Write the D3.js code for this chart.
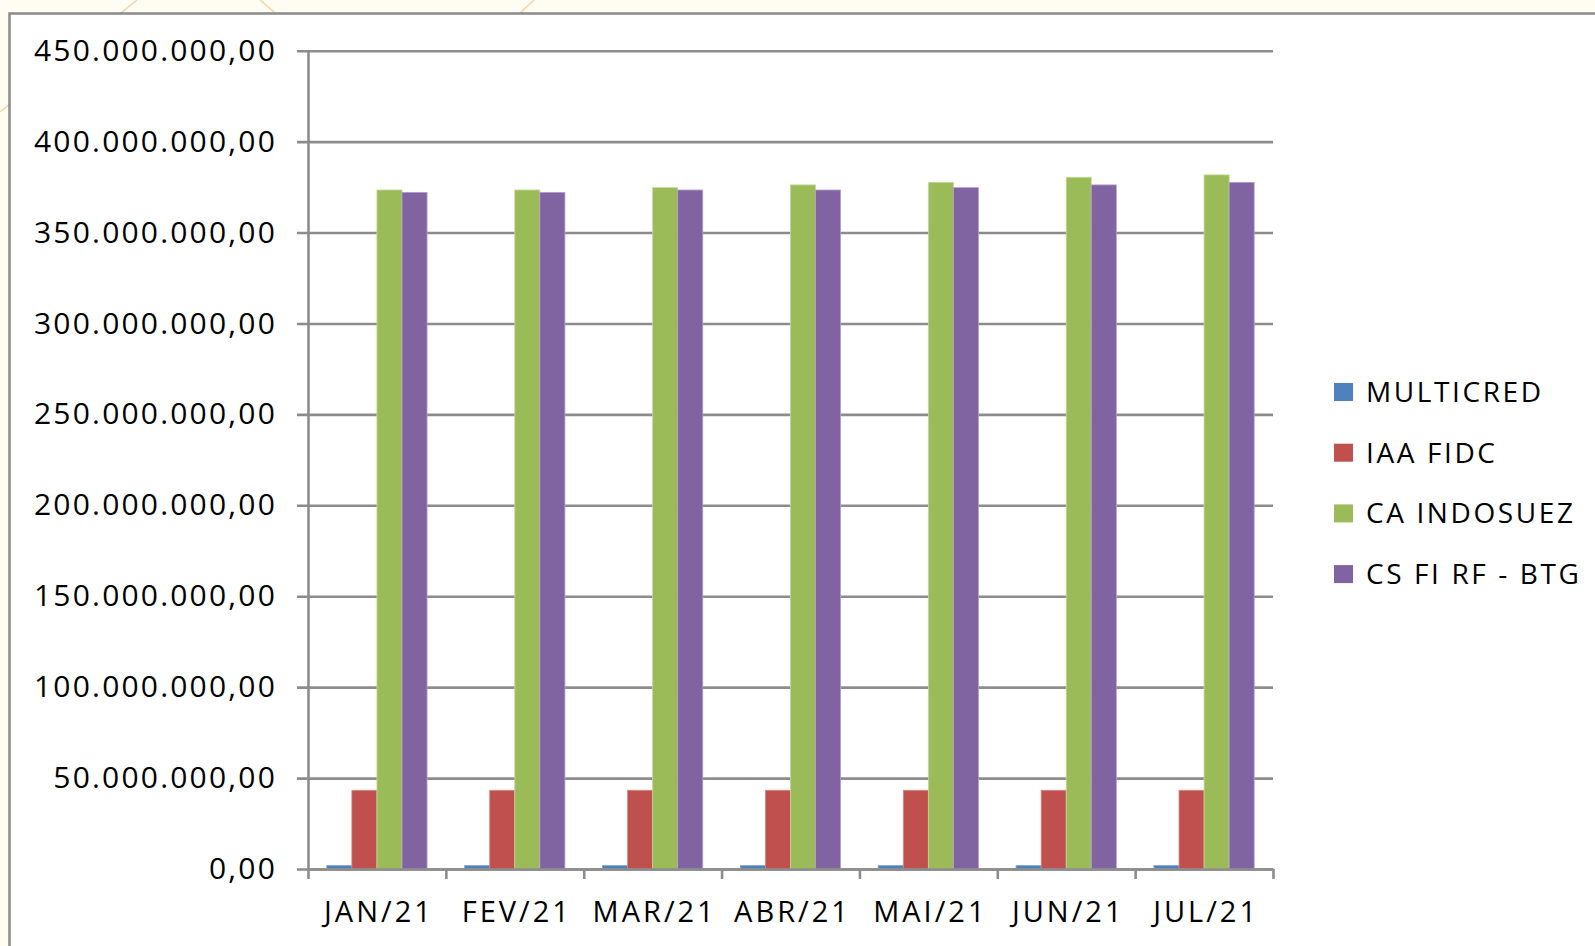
<!DOCTYPE html>
<html>
<head>
<meta charset="utf-8">
<script src="https://cdn.jsdelivr.net/npm/d3@7"></script>
<style>
  html, body { margin: 0; padding: 0; background: #fffcf4; overflow: hidden; }
  svg { display: block; }
  text { font-family: "Open Sans", "Liberation Sans", sans-serif; fill: #000; }
</style>
</head>
<body>
<svg id="chart" width="1595" height="946"></svg>
<script>
// ---- Data ----
const months = ["JAN/21", "FEV/21", "MAR/21", "ABR/21", "MAI/21", "JUN/21", "JUL/21"];
const seriesNames = ["MULTICRED", "IAA FIDC", "CA INDOSUEZ", "CS FI RF - BTG"];
const multicred = [1.9e6, 1.9e6, 1.9e6, 1.9e6, 1.9e6, 1.9e6, 1.9e6];
const iaaFidc = [43.3e6, 43.3e6, 43.3e6, 43.3e6, 43.3e6, 43.3e6, 43.3e6];
const caIndosuez = [373.4e6, 373.4e6, 374.7e6, 376.2e6, 377.6e6, 380.4e6, 381.7e6];
const csFiRfBtg = [372.1e6, 372.1e6, 373.4e6, 373.4e6, 374.7e6, 376.2e6, 377.6e6];
const yTicks = [0, 50e6, 100e6, 150e6, 200e6, 250e6, 300e6, 350e6, 400e6, 450e6];
const colors = ["#4f81bd", "#c0504d", "#9bbb59", "#8064a2"];
const strokes = ["#7fa3d3", "#d88a88", "#c3d99a", "#b3a0cc"];

const seriesValues = [multicred, iaaFidc, caIndosuez, csFiRfBtg];
const table = months.map((m, i) => ({ month: m, values: seriesNames.map((s, j) => ({ key: s, idx: j, value: seriesValues[j][i] })) }));

const svg = d3.select("#chart");

// ---- background decoration ----
const deco = svg.append("g").attr("stroke", "#f0d8a4").attr("stroke-width", 1.6).attr("fill", "none");
[[137, 0, 0, 112], [260, 0, 330, 60], [534, 0, 470, 60]].forEach(l => {
  deco.append("line").attr("x1", l[0]).attr("y1", l[1]).attr("x2", l[2]).attr("y2", l[3]);
});

// ---- chart box ----
svg.append("rect")
  .attr("x", 9.5).attr("y", 13.5).attr("width", 1600).attr("height", 960)
  .attr("fill", "#ffffff").attr("stroke", "#8a8a8a").attr("stroke-width", 2.5);

// ---- scales ----
const pLeft = 308, pRight = 1273, pTop = 50.7, pBottom = 869;
const x0 = d3.scaleBand().domain(months).range([pLeft, pRight]).paddingInner(0).paddingOuter(0);
const bw = x0.bandwidth();
const gap = bw * 0.75 / 5.5;
const x1 = d3.scaleBand().domain(seriesNames).range([gap, bw - gap]).padding(0);
const y = d3.scaleLinear().domain([0, 450e6]).range([pBottom, pTop]);

const locale = d3.formatLocale({ decimal: ",", thousands: ".", grouping: [3], currency: ["R$", ""] });
const fmt = locale.format(",.2f");

// ---- gridlines ----
svg.append("g")
  .attr("transform", `translate(${pRight},0)`)
  .call(d3.axisLeft(y).tickValues(yTicks).tickSize(pRight - pLeft + 11).tickFormat(""))
  .call(g => g.select(".domain").remove())
  .call(g => g.selectAll("line").attr("stroke", "#8c8c8c").attr("stroke-width", 2.6));

// ---- bars ----
const groups = svg.append("g").selectAll("g").data(table).join("g")
  .attr("transform", d => `translate(${x0(d.month)},0)`);
groups.selectAll("rect").data(d => d.values).join("rect")
  .attr("x", d => x1(d.key))
  .attr("y", d => y(d.value))
  .attr("width", x1.bandwidth())
  .attr("height", d => y(0) - y(d.value))
  .attr("fill", d => colors[d.idx])
  .attr("stroke", d => strokes[d.idx])
  .attr("stroke-width", 0.8);

// ---- y axis ----
svg.append("g")
  .attr("transform", `translate(${pLeft},0)`)
  .call(d3.axisLeft(y).tickValues(yTicks).tickSize(0).tickPadding(31).tickFormat(d => fmt(d)))
  .call(g => g.select(".domain").attr("stroke", "#8c8c8c").attr("stroke-width", 2.6))
  .call(g => g.selectAll("text").attr("font-size", 30).attr("letter-spacing", "2.2px")
    .attr("font-family", "'Open Sans', sans-serif").attr("fill", "#000"));

// ---- x axis ----
const bounds = d3.scaleLinear().domain([0, months.length]).range([pLeft, pRight]);
svg.append("g")
  .attr("transform", `translate(0,${pBottom})`)
  .call(d3.axisBottom(bounds).tickValues(d3.range(months.length + 1)).tickSize(10).tickSizeOuter(0).tickFormat(""))
  .call(g => g.select(".domain").attr("stroke", "#8c8c8c").attr("stroke-width", 2.6))
  .call(g => g.selectAll("line").attr("stroke", "#8c8c8c").attr("stroke-width", 2.6));

svg.append("g")
  .attr("transform", `translate(0,${pBottom})`)
  .call(d3.axisBottom(x0).tickSize(0).tickPadding(32))
  .call(g => g.select(".domain").remove())
  .call(g => g.selectAll("text").attr("font-size", 29).attr("letter-spacing", "3px")
    .attr("font-family", "'Open Sans', sans-serif").attr("fill", "#000")
    .attr("transform", "translate(2,0)"));

// ---- legend ----
const legend = svg.append("g").attr("transform", "translate(1334,392)");
const items = legend.selectAll("g").data(seriesNames).join("g")
  .attr("transform", (d, i) => `translate(0,${i * 60.7})`);
items.append("rect").attr("x", 0).attr("y", -9).attr("width", 19).attr("height", 18)
  .attr("fill", (d, i) => colors[i]);
items.append("text").attr("x", 32).attr("y", 0).attr("dy", "0.36em")
  .attr("font-size", 28).attr("letter-spacing", "2.6px").text(d => d);
</script>
</body>
</html>
